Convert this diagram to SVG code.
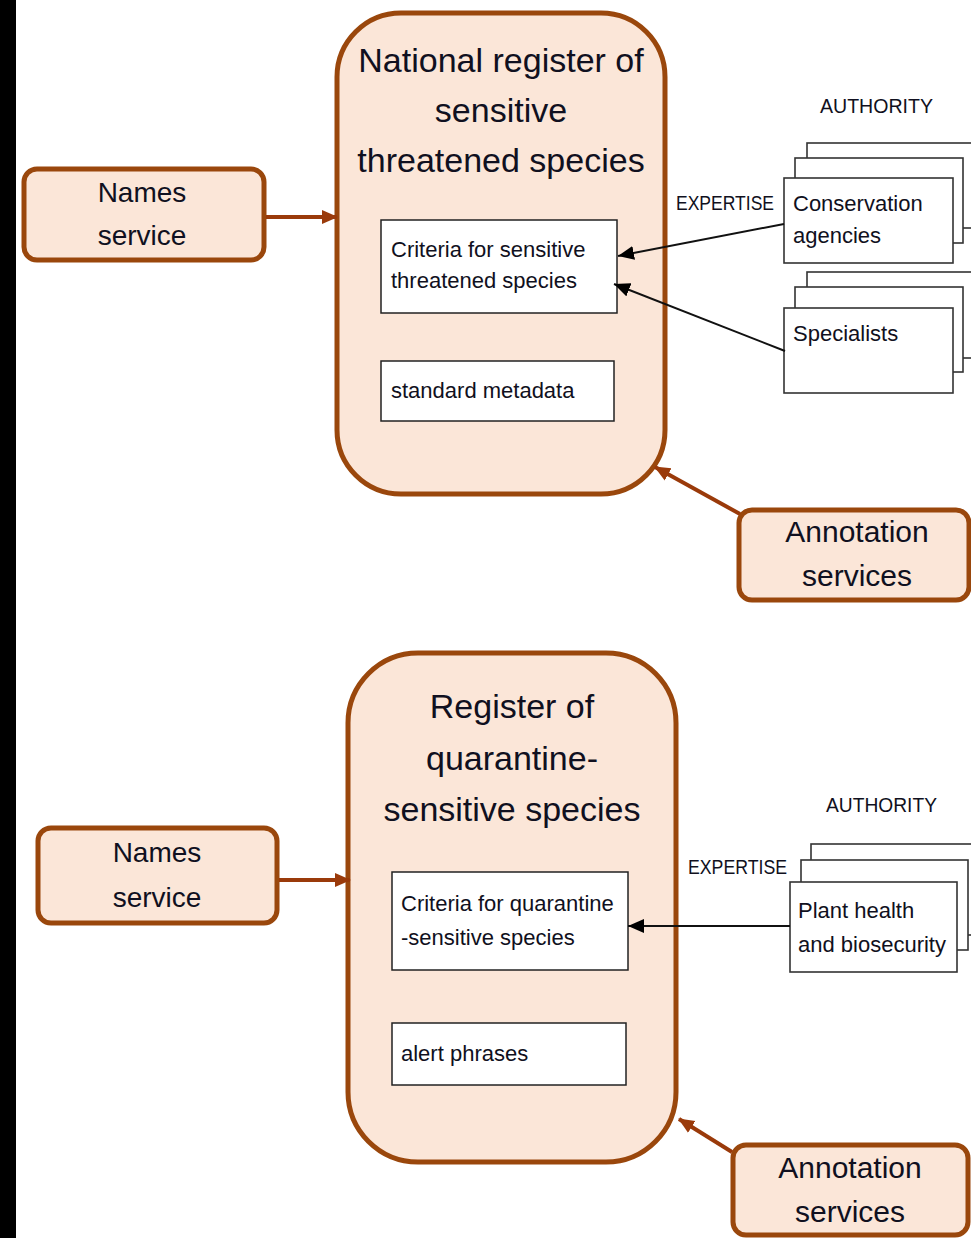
<svg xmlns="http://www.w3.org/2000/svg" width="971" height="1238" viewBox="0 0 971 1238">
<style>
.svc{fill:#FBE6D8;stroke:#9A470C;stroke-width:5}
.reg{fill:#FBE6D8;stroke:#9A470C;stroke-width:5}
.inner{fill:#fff;stroke:#222;stroke-width:1.5}
.stk{fill:#fff;stroke:#333;stroke-width:1.6}
.t{font-family:"Liberation Sans",Arial,sans-serif;fill:#101020}
.big{font-size:34px;text-anchor:middle}
.svt{font-size:28px;text-anchor:middle}
.sm{font-size:22px}
.lab{font-size:21px}
.barr{stroke:#9A3A0A;stroke-width:4;fill:none}
.karr{stroke:#111;stroke-width:2;fill:none}
</style>
<defs>
<marker id="mb" markerUnits="userSpaceOnUse" markerWidth="16" markerHeight="16" viewBox="0 0 16 16" refX="15" refY="8" orient="auto">
<path d="M0,1 L16,8 L0,15 Z" fill="#9A3A0A"/>
</marker>
<marker id="mk" markerUnits="userSpaceOnUse" markerWidth="16" markerHeight="14" viewBox="0 0 16 14" refX="16" refY="7" orient="auto">
<path d="M0,0 L16,7 L0,14 Z" fill="#000"/>
</marker>
</defs>
<rect x="0" y="0" width="971" height="1238" fill="#fff"/>
<rect x="0" y="0" width="16" height="1238" fill="#000"/>

<g id="names1">
<rect class="svc" x="24" y="169" width="240" height="91" rx="13"/>
<text class="t svt" x="142" y="202">Names</text>
<text class="t svt" x="142" y="245">service</text>
</g>

<g id="register1">
<rect class="reg" x="337" y="13" width="328" height="481" rx="64"/>
<text class="t big" x="501" y="72">National register of</text>
<text class="t big" x="501" y="122">sensitive</text>
<text class="t big" x="501" y="172">threatened species</text>
</g>
<g id="criteria1">
<rect class="inner" x="381" y="220" width="236" height="93"/>
<text class="t sm" x="391" y="257">Criteria for sensitive</text>
<text class="t sm" x="391" y="288">threatened species</text>
</g>
<g id="metadata1">
<rect class="inner" x="381" y="361" width="233" height="60"/>
<text class="t sm" x="391" y="398">standard metadata</text>
</g>

<g id="labels1">
<text class="t lab" x="820" y="113" textLength="113" lengthAdjust="spacingAndGlyphs">AUTHORITY</text>
<text class="t lab" x="676" y="210" textLength="98" lengthAdjust="spacingAndGlyphs">EXPERTISE</text>
</g>

<g id="conservation">
<rect class="stk" x="807" y="143" width="180" height="85"/>
<rect class="stk" x="795" y="158" width="168" height="85"/>
<rect class="stk" x="784" y="178" width="169" height="85"/>
<text class="t sm" x="793" y="211">Conservation</text>
<text class="t sm" x="793" y="243">agencies</text>
</g>
<g id="specialists">
<rect class="stk" x="807" y="272" width="180" height="86"/>
<rect class="stk" x="795" y="287" width="168" height="85"/>
<rect class="stk" x="784" y="308" width="169" height="85"/>
<text class="t sm" x="793" y="341">Specialists</text>
</g>

<g id="annotation1">
<rect class="svc" x="739" y="510" width="230" height="90" rx="13"/>
<text class="t" x="857" y="542" font-size="30" text-anchor="middle">Annotation</text>
<text class="t" x="857" y="586" font-size="30" text-anchor="middle">services</text>
</g>

<g id="names2">
<rect class="svc" x="38" y="828" width="239" height="95" rx="13"/>
<text class="t svt" x="157" y="862">Names</text>
<text class="t svt" x="157" y="907">service</text>
</g>

<g id="register2">
<rect class="reg" x="348" y="653" width="328" height="509" rx="70"/>
<text class="t big" x="512" y="718" font-size="33">Register of</text>
<text class="t big" x="512" y="770" font-size="33">quarantine-</text>
<text class="t big" x="512" y="821" font-size="33">sensitive species</text>
</g>
<g id="criteria2">
<rect class="inner" x="392" y="872" width="236" height="98"/>
<text class="t sm" x="401" y="911">Criteria for quarantine</text>
<text class="t sm" x="401" y="945">-sensitive species</text>
</g>
<g id="alert2">
<rect class="inner" x="392" y="1023" width="234" height="62"/>
<text class="t sm" x="401" y="1061">alert phrases</text>
</g>

<g id="labels2">
<text class="t lab" x="826" y="812" textLength="111" lengthAdjust="spacingAndGlyphs">AUTHORITY</text>
<text class="t lab" x="688" y="874" textLength="99" lengthAdjust="spacingAndGlyphs">EXPERTISE</text>
</g>

<g id="planthealth">
<rect class="stk" x="811" y="844" width="180" height="91"/>
<rect class="stk" x="801" y="860" width="167" height="90"/>
<rect class="stk" x="790" y="882" width="167" height="90"/>
<text class="t sm" x="798" y="918">Plant health</text>
<text class="t sm" x="798" y="952">and biosecurity</text>
</g>

<g id="annotation2">
<rect class="svc" x="733" y="1145" width="235" height="90" rx="13"/>
<text class="t" x="850" y="1178" font-size="30" text-anchor="middle">Annotation</text>
<text class="t" x="850" y="1222" font-size="30" text-anchor="middle">services</text>
</g>

<g id="connectors">
<line class="barr" x1="266" y1="217" x2="337" y2="217" marker-end="url(#mb)"/>
<line class="barr" x1="740" y1="514" x2="655" y2="467" marker-end="url(#mb)"/>
<line class="karr" x1="784" y1="224" x2="618" y2="256" marker-end="url(#mk)"/>
<line class="karr" x1="785" y1="351" x2="614" y2="284" marker-end="url(#mk)"/>
<line class="barr" x1="279" y1="880" x2="350" y2="880" marker-end="url(#mb)"/>
<line class="barr" x1="732" y1="1152" x2="679" y2="1119" marker-end="url(#mb)"/>
<line class="karr" x1="790" y1="926" x2="628" y2="926" marker-end="url(#mk)"/>
</g>
</svg>
